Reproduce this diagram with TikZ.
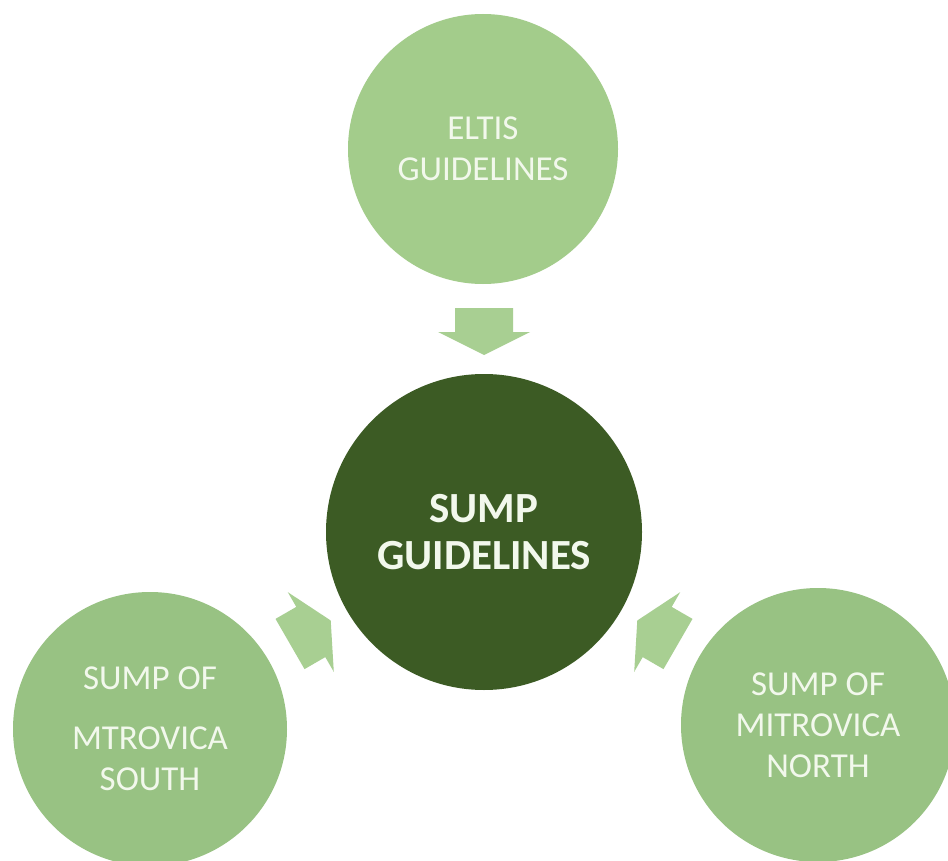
\documentclass[tikz,border=0pt]{standalone}
\usepackage{fontspec}
\setmainfont{Carlito}
\definecolor{topgreen}{HTML}{A3CC8B}
\definecolor{botgreen}{HTML}{98C283}
\definecolor{arrowgreen}{HTML}{A8CF92}
\definecolor{darkgreen}{HTML}{3C5B24}
\definecolor{txtc}{HTML}{F2F8EC}
\begin{document}
\begin{tikzpicture}[x=1pt,y=-1pt,
  bubble/.style={circle, inner sep=0pt, text=txtc, align=center},
  lightfont/.style={font=\fontsize{35}{41}\selectfont},
  boldfont/.style={font=\fontsize{43}{47}\selectfont\bfseries},
  blockarrow/.style={fill=arrowgreen, draw=none}]
\useasboundingbox (0,0) rectangle (948,861);
\clip (0,0) rectangle (948,861);
\fill[white] (0,0) rectangle (948,861);
\node[bubble, lightfont, fill=topgreen, minimum size=270pt] (eltis) at (483,149) {ELTIS\\GUIDELINES};
\node[bubble, boldfont, fill=darkgreen, minimum size=316pt] (sump) at (484,532) {SUMP\\GUIDELINES};
\node[bubble, lightfont, fill=botgreen, minimum size=274pt] (south) at (150,729) {SUMP OF\\[19pt]MTROVICA\\SOUTH};
\node[bubble, lightfont, fill=botgreen, minimum size=274pt] (north) at (818,725) {SUMP OF\\MITROVICA\\NORTH};
\foreach \a in {0,120,-120}{
  \begin{scope}[shift={(sump.center)}, rotate=\a]
    \fill[blockarrow] (-29,-224) -- (29,-224) -- (29,-200) -- (46,-200) -- (0,-177) -- (-46,-200) -- (-29,-200) -- cycle;
  \end{scope}
}
\end{tikzpicture}
\end{document}
